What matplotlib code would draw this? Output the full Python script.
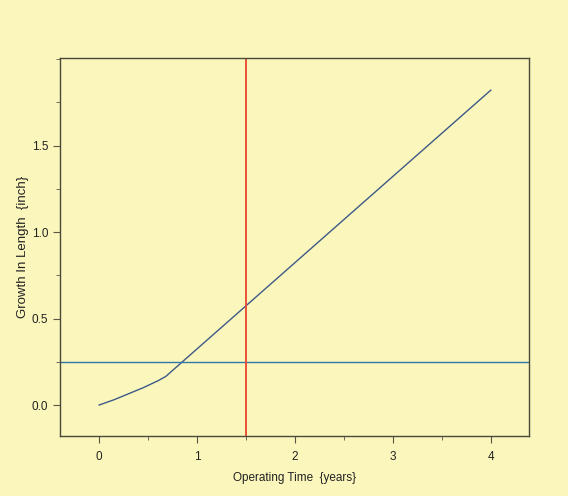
import matplotlib
matplotlib.use("Agg")
import matplotlib.pyplot as plt
from matplotlib.ticker import MultipleLocator

# growth curve
time_years = [0, 0.15, 0.3, 0.45, 0.6, 0.68, 4.0]
growth_in = [0, 0.03, 0.065, 0.10, 0.14, 0.165, 1.82]

limit_growth = 0.25
limit_time = 1.5

bg = '#fbf6bc'
fig = plt.figure(figsize=(5.68, 4.96), dpi=100)
fig.set_facecolor(bg)
ax = fig.add_axes([0.1056, 0.121, 0.8257, 0.7621])
ax.patch.set_facecolor(bg)

ax.plot(time_years, growth_in, color='#3d5a86', lw=1)
ax.axhline(limit_growth, color='#2f77a8', lw=1)
ax.axvline(limit_time, color='#e8452c', lw=1.3)

ax.set_xlim(-0.4, 4.39)
ax.set_ylim(-0.179, 2.006)
ax.set_xticks([0, 1, 2, 3, 4])
ax.set_yticks([0.0, 0.5, 1.0, 1.5])
ax.set_yticklabels(['0.0', '0.5', '1.0', '1.5'])
ax.xaxis.set_minor_locator(MultipleLocator(0.5))
ax.yaxis.set_minor_locator(MultipleLocator(0.25))

for s in ax.spines.values():
    s.set_color('#4a4a3a')
    s.set_linewidth(1)

ax.tick_params(which='both', direction='out', colors='#555548', labelcolor='#222222',
               labelsize=8.5)
ax.tick_params(which='major', length=5)
ax.tick_params(which='minor', length=3)
ax.tick_params(axis='x', pad=6)

ax.set_xlabel('Operating Time  {years}', fontsize=8.5, color='#222222', labelpad=6,
              family='Liberation Sans')
ax.set_ylabel('Growth In Length  {inch}', fontsize=9.5, color='#222222', labelpad=2,
              family='Liberation Sans')
for lab in ax.get_xticklabels() + ax.get_yticklabels():
    lab.set_family('Liberation Sans')

fig.savefig('out.png', dpi=100, facecolor=bg)
